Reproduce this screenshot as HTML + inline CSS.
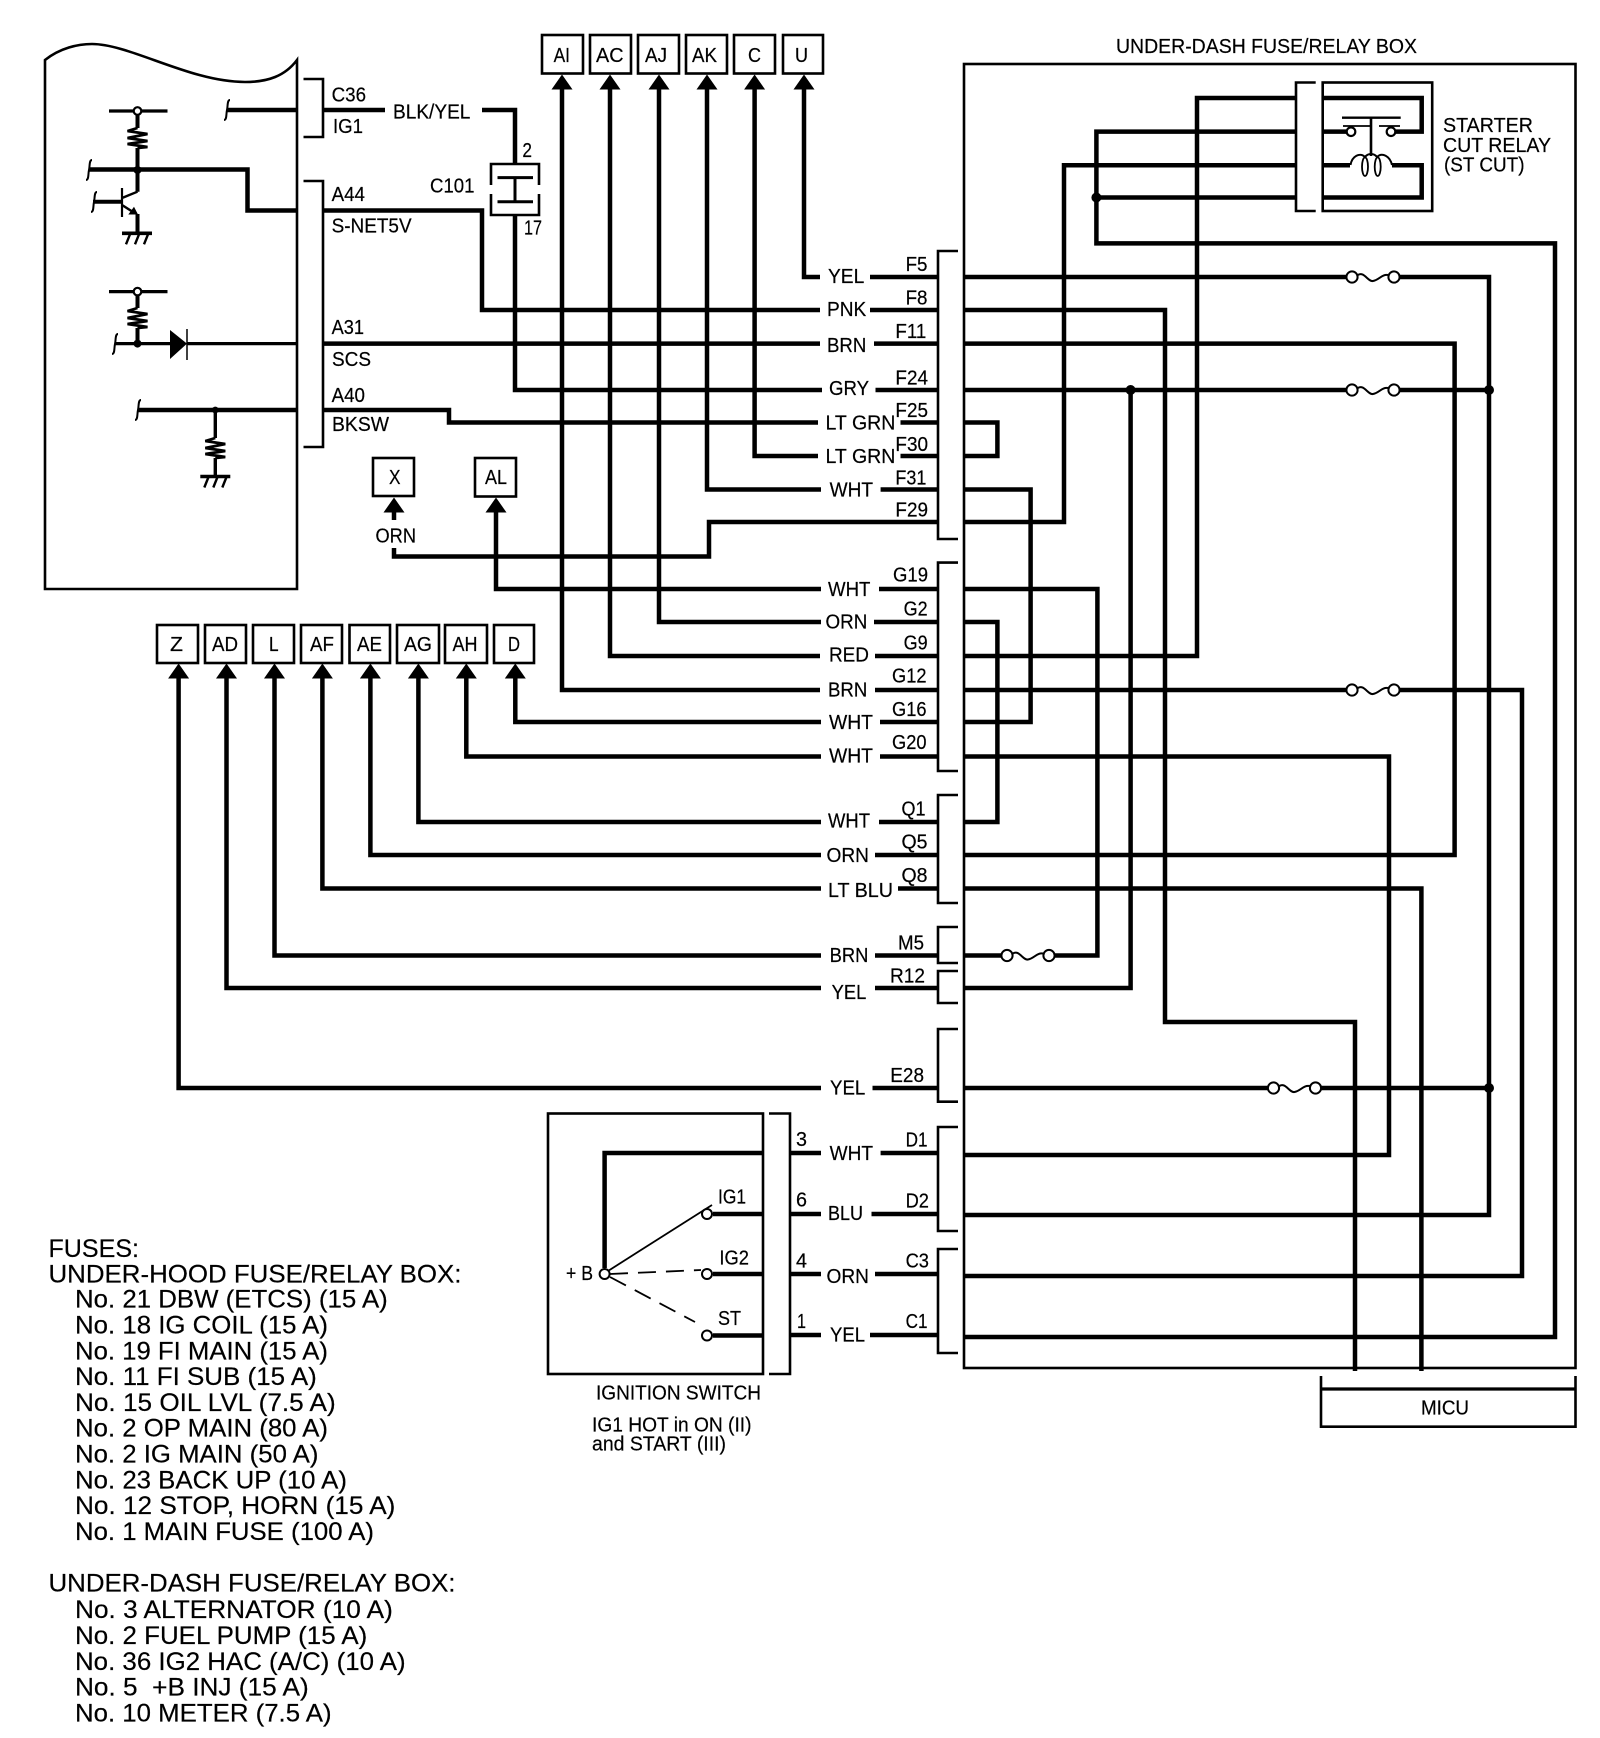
<!DOCTYPE html>
<html><head><meta charset="utf-8"><title>Diagram</title>
<style>
html,body{margin:0;padding:0;background:#fff}
svg{display:block}
text{font-family:"Liberation Sans",sans-serif;fill:#000;font-size:20.5px;stroke:#000;stroke-width:.2}
.f{font-size:25px}
.w{fill:none;stroke:#000;stroke-width:4.5}
.t{fill:none;stroke:#000;stroke-width:2.6}
.n{fill:none;stroke:#000;stroke-width:1.8}
</style></head><body>
<svg xmlns="http://www.w3.org/2000/svg" width="1600" height="1738" viewBox="0 0 1600 1738">
<defs>
<polygon id="ar" points="0,0 -10.5,15 10.5,15" fill="#000"/>
<g id="fu"><path d="M6,-2 C12,-6 16,5 21,4 C27,3 30,-3 36,-2" fill="none" stroke="#000" stroke-width="2"/><circle cx="0" cy="0" r="5.6" fill="#fff" stroke="#000" stroke-width="2"/><circle cx="42" cy="0" r="5.6" fill="#fff" stroke="#000" stroke-width="2"/></g>
<path id="rs" d="M0,0 L-10,3 L10,6 L-10,10 L10,13 L-10,16 L10,19 L0,20" fill="none" stroke="#000" stroke-width="2.700"/>
<g id="gn"><path d="M-15,0 H15" stroke="#000" stroke-width="3.600" fill="none"/><path d="M-7,1 L-11,11 M2,1 L-2,11 M11,1 L7,11" stroke="#000" stroke-width="2.400" fill="none"/></g>
<path id="sq" d="M3,-10 C0,-10 1,-4 0,0 C-1,4 0,10 -3,10" fill="none" stroke="#000" stroke-width="2"/>
</defs>
<!-- left unit -->
<path class="t" d="M45,60 C60,48 78,44 92,44 C130,44 190,82 245,82 C268,82 285,76 297,60 V589 H45 Z"/>
<path class="t" d="M303.5,79 H323 V137 H303.5 M303.5,181 H323 V447 H303.5"/>
<path class="w" d="M227,110 H297 M323,110 H385 M482,110 H515 V164"/>
<path class="w" d="M515,215 V390 H822"/>
<path class="w" d="M89,169.500 H247.500 V210.500 H297 M323,210.500 H482 V310 H820"/>
<path class="w" d="M323,343.600 H820"/>
<path class="w" d="M138,410 H297 M323,410 H449 V422.500 H818"/>
<path d="M115,343.600 H172 M187,343.600 H297" fill="none" stroke="#000" stroke-width="3.200"/>
<!-- schematic internals -->
<path d="M109,111 H167.500 M109,291.600 H167.500" stroke="#000" stroke-width="3.200" fill="none"/>
<path d="M137.500,111 V128 M137.500,148 V191.700 M137.500,214 V233 M137.500,292 V308 M137.500,328 V343" stroke="#000" stroke-width="4" fill="none"/>
<path d="M93,201.700 H122" stroke="#000" stroke-width="4"/>
<path d="M122,198 L137.500,191.700 M122,205 L133,212" stroke="#000" stroke-width="2.400" fill="none"/>
<path d="M122,188 V217" stroke="#000" stroke-width="2.200"/>
<polygon points="134,206.700 128.300,214.500 138,214.500" fill="#000"/>
<use href="#rs" x="137.500" y="128"/>
<use href="#gn" x="137" y="233.300"/>
<circle cx="137.500" cy="111" r="3.800" fill="#fff" stroke="#000" stroke-width="2.200"/>
<circle cx="137.500" cy="170" r="4" fill="#000"/>
<use href="#rs" x="137.500" y="308"/>
<circle cx="137.500" cy="291.600" r="3.800" fill="#fff" stroke="#000" stroke-width="2.200"/>
<circle cx="137.500" cy="343.600" r="4" fill="#000"/>
<polygon points="170,330 170,359 187,343.600" fill="#000"/>
<path d="M187,329 V360" stroke="#000" stroke-width="1.500"/>
<path d="M215.300,410 V438 M215.300,458 V476" stroke="#000" stroke-width="3.400" fill="none"/>
<use href="#rs" x="215.300" y="438"/>
<use href="#gn" x="215.300" y="476.500"/>
<circle cx="215.300" cy="410" r="3.400" fill="#000"/>
<use href="#sq" x="227" y="110"/><use href="#sq" x="89" y="170"/><use href="#sq" x="94" y="202"/><use href="#sq" x="115" y="344"/><use href="#sq" x="138" y="410"/>
<!-- C101 -->
<path class="t" d="M491,185 V164 H539 V185 M491,194 V215 H539 V194"/>
<path d="M497.500,177.600 H533 M497.500,201.700 H533" stroke="#000" stroke-width="3"/>
<path d="M515,177 V202" stroke="#000" stroke-width="3"/>
<!-- top connector boxes -->
<g class="t">
<rect x="542" y="35" width="41" height="38.500"/><rect x="590" y="35" width="41" height="38.500"/><rect x="638" y="35" width="41" height="38.500"/><rect x="686" y="35" width="41" height="38.500"/><rect x="734" y="35" width="41" height="38.500"/><rect x="783" y="35" width="40" height="38.500"/>
<rect x="373" y="458" width="41" height="38"/><rect x="475" y="458" width="41" height="38.500"/>
<rect x="157" y="625" width="41" height="38"/><rect x="205" y="625" width="41" height="38"/><rect x="253" y="625" width="41" height="38"/><rect x="301" y="625" width="41" height="38"/><rect x="349.500" y="625" width="40.500" height="38"/><rect x="397" y="625" width="42" height="38"/><rect x="445" y="625" width="42" height="38"/><rect x="494" y="625" width="40" height="38"/>
</g>
<!-- arrows -->
<use href="#ar" x="562" y="74.500"/><use href="#ar" x="610" y="74.500"/><use href="#ar" x="659" y="74.500"/><use href="#ar" x="707" y="74.500"/><use href="#ar" x="754.600" y="74.500"/><use href="#ar" x="804" y="74.500"/>
<use href="#ar" x="394" y="497.500"/><use href="#ar" x="496" y="497.500"/>
<use href="#ar" x="178.600" y="663.500"/><use href="#ar" x="226.500" y="663.500"/><use href="#ar" x="274.500" y="663.500"/><use href="#ar" x="322.400" y="663.500"/><use href="#ar" x="370.400" y="663.500"/><use href="#ar" x="418.400" y="663.500"/><use href="#ar" x="466.300" y="663.500"/><use href="#ar" x="515.300" y="663.500"/>
<!-- wires left of labels -->
<path class="w" d="M562,85 V690 H820"/>
<path class="w" d="M610,85 V656 H820"/>
<path class="w" d="M659,85 V622 H821"/>
<path class="w" d="M707,85 V489.500 H821"/>
<path class="w" d="M754.600,85 V456 H818"/>
<path class="w" d="M804,85 V277 H820"/>
<path class="w" d="M394,508 V520"/>
<path class="w" d="M394,548 V556.500 H709 V522 H938"/>
<path class="w" d="M496,508 V589 H821"/>
<path class="w" d="M178.600,674 V1088 H821"/>
<path class="w" d="M226.500,674 V988 H821"/>
<path class="w" d="M274.500,674 V955.500 H821"/>
<path class="w" d="M322.400,674 V888.500 H821"/>
<path class="w" d="M370.400,674 V855 H821"/>
<path class="w" d="M418.400,674 V822 H821"/>
<path class="w" d="M466.300,674 V756.500 H821"/>
<path class="w" d="M515.300,674 V722 H821"/>
<!-- stubs to connectors -->
<path class="w" d="M870,277 H938 M870,310 H938 M874,343.600 H938 M875.500,390 H938 M900.500,422.500 H938 M900.500,456 H938 M880.600,489.500 H938 M879,589 H938 M874,622 H938 M875,656 H938 M875,690 H938 M880,722 H938 M880,756.500 H938 M879,822 H938 M875,855 H938 M898,888.500 H938 M875,955.500 H938 M875,988 H938 M872.500,1088 H938 M880.600,1153 H938 M871.500,1214 H938 M875,1274 H938 M870,1335 H938"/>
<!-- connectors F G Q M R E D C -->
<path class="t" d="M958,251 H938 V539 H958 M958,562.600 H938 V771 H958 M958,795 H938 V903 H958 M958,927 H938 V963 H958 M958,971 H938 V1003 H958 M958,1029 H938 V1101.700 H958 M958,1127 H938 V1231 H958 M958,1249 H938 V1353 H958"/>
<rect class="t" x="964" y="64" width="611.500" height="1304"/>
<!-- inside box wiring -->
<path class="w" d="M964,277 H1350 M1400,277 H1489 V1215 H964"/>
<path class="w" d="M964,310 H1165 V1022 H1355 V1371"/>
<path class="w" d="M964,343.600 H1454.600 V855 H964"/>
<path class="w" d="M964,390 H1350 M1400,390 H1489"/>
<path class="w" d="M1130.600,390 V988 H964"/>
<path class="w" d="M964,422.500 H997.400 V456 H964"/>
<path class="w" d="M964,489.500 H1030.600 V722 H964"/>
<path class="w" d="M964,522 H1064 V165.300 H1296"/>
<path class="w" d="M964,589 H1097.400 V955.500 H1055"/>
<path class="w" d="M964,622 H997.400 V822 H964"/>
<path class="w" d="M964,656 H1197 V98 H1296"/>
<path class="w" d="M964,690 H1350 M1400,690 H1522 V1276 H964"/>
<path class="w" d="M964,756.500 H1389 V1155 H964"/>
<path class="w" d="M964,888.500 H1421.400 V1371"/>
<path class="w" d="M964,955.500 H1002"/>
<path class="w" d="M964,1088 H1268 M1320,1088 H1489"/>
<path class="w" d="M1296,131.600 H1096.400 V243.400 H1555 V1337 H964"/>
<path class="w" d="M1096.400,197.500 H1296"/>
<use href="#fu" x="1352" y="277"/><use href="#fu" x="1352" y="390"/><use href="#fu" x="1352" y="690"/><use href="#fu" x="1007" y="955.500"/><use href="#fu" x="1273.500" y="1088"/>
<circle cx="1096.400" cy="197.500" r="5" fill="#000"/><circle cx="1130.600" cy="390" r="5" fill="#000"/><circle cx="1489" cy="390" r="5" fill="#000"/><circle cx="1489" cy="1088" r="5" fill="#000"/>
<!-- relay -->
<path class="t" d="M1315.700,82.500 H1296 V211 H1315.700"/>
<rect class="t" x="1322.700" y="82.500" width="109.500" height="128.500"/>
<path class="w" d="M1322.700,98 H1421.700 V131.600 H1396 M1322.700,131.600 H1346 M1322.700,165.300 H1350 M1392,165.300 H1421.700 V197.500 H1322.700"/>
<path d="M1342,117.700 H1400.700" stroke="#000" stroke-width="2.400"/>
<path d="M1343,126 H1371 M1379,126 H1400" stroke="#000" stroke-width="1.800"/>
<path d="M1371,117.700 V156" stroke="#000" stroke-width="2.600"/>
<circle cx="1351" cy="131.700" r="4.300" fill="#fff" stroke="#000" stroke-width="2.200"/><circle cx="1391" cy="131.700" r="4.300" fill="#fff" stroke="#000" stroke-width="2.200"/>
<path d="M1350.500,165 C1352,156 1360,152 1365,157 C1368,153 1374,153 1377,157 C1382,152 1390,156 1392,165" fill="none" stroke="#000" stroke-width="2"/>
<ellipse cx="1365" cy="166.700" rx="3" ry="9.300" class="n"/><ellipse cx="1377.700" cy="166.700" rx="3" ry="9.300" class="n"/>
<!-- MICU -->
<path class="t" d="M1321,1376 V1426.700 H1575.500 V1376"/>
<path d="M1321,1389 H1575.500" stroke="#000" stroke-width="3.200"/>
<!-- ignition -->
<rect class="t" x="548" y="1113.500" width="215" height="260.500"/>
<path class="t" d="M769,1113.500 H790 V1374 H769"/>
<path class="w" d="M604.600,1268 V1153 H763 M790,1153 H821 M713,1214 H763 M790,1214 H821 M713,1274 H763 M790,1274 H821 M713,1335.500 H763 M790,1335 H821"/>
<path class="n" d="M608,1271 L712,1205"/>
<path class="n" stroke-dasharray="18 10" d="M610,1274 L701,1270"/>
<path class="n" stroke-dasharray="18 10" d="M610,1277 L695,1322"/>
<circle cx="604.600" cy="1274" r="5" fill="#fff" stroke="#000" stroke-width="2"/>
<circle cx="707" cy="1214" r="5" fill="#fff" stroke="#000" stroke-width="2"/>
<circle cx="707" cy="1274" r="5" fill="#fff" stroke="#000" stroke-width="2"/>
<circle cx="707" cy="1335.500" r="5" fill="#fff" stroke="#000" stroke-width="2"/>
<!-- labels left -->
<g>
<text x="331.600" y="101.400" textLength="34.400" lengthAdjust="spacingAndGlyphs">C36</text>
<text x="333" y="133" textLength="30" lengthAdjust="spacingAndGlyphs">IG1</text>
<text x="393" y="118.600" textLength="77.400" lengthAdjust="spacingAndGlyphs">BLK/YEL</text>
<text x="522.400" y="157" textLength="9.600" lengthAdjust="spacingAndGlyphs">2</text>
<text x="430" y="192.500" textLength="44.500" lengthAdjust="spacingAndGlyphs">C101</text>
<text x="524" y="234.600" textLength="18" lengthAdjust="spacingAndGlyphs">17</text>
<text x="331.600" y="201" textLength="33.400" lengthAdjust="spacingAndGlyphs">A44</text>
<text x="331.600" y="232.700" textLength="80" lengthAdjust="spacingAndGlyphs">S-NET5V</text>
<text x="331.600" y="334" textLength="32.400" lengthAdjust="spacingAndGlyphs">A31</text>
<text x="332" y="366" textLength="39" lengthAdjust="spacingAndGlyphs">SCS</text>
<text x="331.600" y="402" textLength="33.400" lengthAdjust="spacingAndGlyphs">A40</text>
<text x="332" y="431" textLength="57" lengthAdjust="spacingAndGlyphs">BKSW</text>
<text x="553.600" y="62" textLength="16.400" lengthAdjust="spacingAndGlyphs">AI</text>
<text x="596" y="62" textLength="27.500" lengthAdjust="spacingAndGlyphs">AC</text>
<text x="645" y="62" textLength="22" lengthAdjust="spacingAndGlyphs">AJ</text>
<text x="692" y="62" textLength="25" lengthAdjust="spacingAndGlyphs">AK</text>
<text x="748" y="62" textLength="13" lengthAdjust="spacingAndGlyphs">C</text>
<text x="795" y="62" textLength="13" lengthAdjust="spacingAndGlyphs">U</text>
<text x="389" y="484" textLength="11.500" lengthAdjust="spacingAndGlyphs">X</text>
<text x="485" y="484" textLength="22" lengthAdjust="spacingAndGlyphs">AL</text>
<text x="375.500" y="542.700" textLength="40.500" lengthAdjust="spacingAndGlyphs">ORN</text>
<text x="170" y="651" textLength="13" lengthAdjust="spacingAndGlyphs">Z</text>
<text x="212" y="651" textLength="26" lengthAdjust="spacingAndGlyphs">AD</text>
<text x="269" y="651" textLength="9.600" lengthAdjust="spacingAndGlyphs">L</text>
<text x="310" y="651" textLength="24" lengthAdjust="spacingAndGlyphs">AF</text>
<text x="357" y="651" textLength="25" lengthAdjust="spacingAndGlyphs">AE</text>
<text x="404" y="651" textLength="28" lengthAdjust="spacingAndGlyphs">AG</text>
<text x="452.500" y="651" textLength="25" lengthAdjust="spacingAndGlyphs">AH</text>
<text x="508" y="651" textLength="12" lengthAdjust="spacingAndGlyphs">D</text>
<!-- top right -->
<text x="1116" y="53" textLength="301" lengthAdjust="spacingAndGlyphs">UNDER-DASH FUSE/RELAY BOX</text>
<text x="1443" y="132" textLength="90" lengthAdjust="spacingAndGlyphs">STARTER</text>
<text x="1443" y="152" textLength="108" lengthAdjust="spacingAndGlyphs">CUT RELAY</text>
<text x="1444" y="171.500" textLength="80.500" lengthAdjust="spacingAndGlyphs">(ST CUT)</text>
<!-- pin labels -->
<text x="905.600" y="271" textLength="21.900" lengthAdjust="spacingAndGlyphs">F5</text>
<text x="905.600" y="304.600" textLength="21.900" lengthAdjust="spacingAndGlyphs">F8</text>
<text x="895.400" y="338" textLength="31" lengthAdjust="spacingAndGlyphs">F11</text>
<text x="895.400" y="384.600" textLength="32.600" lengthAdjust="spacingAndGlyphs">F24</text>
<text x="895.400" y="417" textLength="32.600" lengthAdjust="spacingAndGlyphs">F25</text>
<text x="895.400" y="451" textLength="32.600" lengthAdjust="spacingAndGlyphs">F30</text>
<text x="895.400" y="484.500" textLength="31" lengthAdjust="spacingAndGlyphs">F31</text>
<text x="895.400" y="516.600" textLength="32.600" lengthAdjust="spacingAndGlyphs">F29</text>
<text x="893" y="581.700" textLength="35" lengthAdjust="spacingAndGlyphs">G19</text>
<text x="903.600" y="615.600" textLength="24" lengthAdjust="spacingAndGlyphs">G2</text>
<text x="903.600" y="649.600" textLength="24" lengthAdjust="spacingAndGlyphs">G9</text>
<text x="892" y="682.600" textLength="34.500" lengthAdjust="spacingAndGlyphs">G12</text>
<text x="892" y="716" textLength="34.500" lengthAdjust="spacingAndGlyphs">G16</text>
<text x="892" y="748.800" textLength="34.500" lengthAdjust="spacingAndGlyphs">G20</text>
<text x="901.500" y="815.400" textLength="24" lengthAdjust="spacingAndGlyphs">Q1</text>
<text x="901.500" y="848.600" textLength="26" lengthAdjust="spacingAndGlyphs">Q5</text>
<text x="901.500" y="882" textLength="26" lengthAdjust="spacingAndGlyphs">Q8</text>
<text x="898" y="949.700" textLength="26" lengthAdjust="spacingAndGlyphs">M5</text>
<text x="890" y="982.600" textLength="35" lengthAdjust="spacingAndGlyphs">R12</text>
<text x="890.300" y="1082" textLength="33.700" lengthAdjust="spacingAndGlyphs">E28</text>
<text x="905.600" y="1146.700" textLength="21.900" lengthAdjust="spacingAndGlyphs">D1</text>
<text x="905.600" y="1207.300" textLength="23.400" lengthAdjust="spacingAndGlyphs">D2</text>
<text x="905.600" y="1267.700" textLength="23.400" lengthAdjust="spacingAndGlyphs">C3</text>
<text x="905.600" y="1328" textLength="21.900" lengthAdjust="spacingAndGlyphs">C1</text>
<!-- wire colours -->
<text x="828" y="283" textLength="36.300" lengthAdjust="spacingAndGlyphs">YEL</text>
<text x="827" y="316" textLength="39.300" lengthAdjust="spacingAndGlyphs">PNK</text>
<text x="827" y="352" textLength="39.300" lengthAdjust="spacingAndGlyphs">BRN</text>
<text x="829" y="395" textLength="40" lengthAdjust="spacingAndGlyphs">GRY</text>
<text x="825.500" y="429.400" textLength="69.900" lengthAdjust="spacingAndGlyphs">LT GRN</text>
<text x="825.500" y="463" textLength="69.900" lengthAdjust="spacingAndGlyphs">LT GRN</text>
<text x="829.600" y="496.700" textLength="43.400" lengthAdjust="spacingAndGlyphs">WHT</text>
<text x="828" y="596" textLength="42.400" lengthAdjust="spacingAndGlyphs">WHT</text>
<text x="825.500" y="628.600" textLength="41.800" lengthAdjust="spacingAndGlyphs">ORN</text>
<text x="829" y="661.500" textLength="40" lengthAdjust="spacingAndGlyphs">RED</text>
<text x="828" y="696.700" textLength="39.300" lengthAdjust="spacingAndGlyphs">BRN</text>
<text x="829" y="729" textLength="44" lengthAdjust="spacingAndGlyphs">WHT</text>
<text x="829" y="762.500" textLength="44" lengthAdjust="spacingAndGlyphs">WHT</text>
<text x="828" y="827.600" textLength="42" lengthAdjust="spacingAndGlyphs">WHT</text>
<text x="826.500" y="862" textLength="42.500" lengthAdjust="spacingAndGlyphs">ORN</text>
<text x="828" y="897" textLength="65" lengthAdjust="spacingAndGlyphs">LT BLU</text>
<text x="829.600" y="962" textLength="38.800" lengthAdjust="spacingAndGlyphs">BRN</text>
<text x="831.600" y="999" textLength="34.700" lengthAdjust="spacingAndGlyphs">YEL</text>
<text x="830" y="1094.700" textLength="35.300" lengthAdjust="spacingAndGlyphs">YEL</text>
<text x="829.600" y="1160" textLength="43.400" lengthAdjust="spacingAndGlyphs">WHT</text>
<text x="828" y="1220" textLength="35" lengthAdjust="spacingAndGlyphs">BLU</text>
<text x="826.500" y="1283" textLength="42.500" lengthAdjust="spacingAndGlyphs">ORN</text>
<text x="830" y="1341.700" textLength="35" lengthAdjust="spacingAndGlyphs">YEL</text>
<text x="796" y="1146" textLength="11" lengthAdjust="spacingAndGlyphs">3</text>
<text x="796" y="1206.700" textLength="11" lengthAdjust="spacingAndGlyphs">6</text>
<text x="796" y="1267.700" textLength="11" lengthAdjust="spacingAndGlyphs">4</text>
<text x="797" y="1328" textLength="9" lengthAdjust="spacingAndGlyphs">1</text>
<text x="1421" y="1414.300" textLength="48" lengthAdjust="spacingAndGlyphs">MICU</text>
<!-- ignition labels -->
<text x="718" y="1203.700" textLength="28" lengthAdjust="spacingAndGlyphs">IG1</text>
<text x="719.400" y="1264.500" textLength="29.600" lengthAdjust="spacingAndGlyphs">IG2</text>
<text x="718" y="1325" textLength="23" lengthAdjust="spacingAndGlyphs">ST</text>
<text x="566" y="1280" textLength="27" lengthAdjust="spacingAndGlyphs">+ B</text>
<text x="596" y="1399.500" textLength="165" lengthAdjust="spacingAndGlyphs">IGNITION SWITCH</text>
<text x="592" y="1431.700" textLength="159.500" lengthAdjust="spacingAndGlyphs">IG1 HOT in ON (II)</text>
<text x="592" y="1450.700" textLength="134" lengthAdjust="spacingAndGlyphs">and START (III)</text>
<!-- fuse list -->
<text class="f" x="48.500" y="1256.800" textLength="90.500" lengthAdjust="spacingAndGlyphs">FUSES:</text>
<text class="f" x="48.500" y="1282.400" textLength="413" lengthAdjust="spacingAndGlyphs">UNDER-HOOD FUSE/RELAY BOX:</text>
<text class="f" x="75" y="1307.600" textLength="312.800" lengthAdjust="spacingAndGlyphs">No. 21 DBW (ETCS) (15 A)</text>
<text class="f" x="75" y="1333.600" textLength="253" lengthAdjust="spacingAndGlyphs">No. 18 IG COIL (15 A)</text>
<text class="f" x="75" y="1359.500" textLength="253" lengthAdjust="spacingAndGlyphs">No. 19 FI MAIN (15 A)</text>
<text class="f" x="75" y="1385" textLength="241.800" lengthAdjust="spacingAndGlyphs">No. 11 FI SUB (15 A)</text>
<text class="f" x="75" y="1411" textLength="260.700" lengthAdjust="spacingAndGlyphs">No. 15 OIL LVL (7.5 A)</text>
<text class="f" x="75" y="1436.300" textLength="253" lengthAdjust="spacingAndGlyphs">No. 2 OP MAIN (80 A)</text>
<text class="f" x="75" y="1462.700" textLength="243.400" lengthAdjust="spacingAndGlyphs">No. 2 IG MAIN (50 A)</text>
<text class="f" x="75" y="1488.700" textLength="272" lengthAdjust="spacingAndGlyphs">No. 23 BACK UP (10 A)</text>
<text class="f" x="75" y="1513.900" textLength="320.400" lengthAdjust="spacingAndGlyphs">No. 12 STOP, HORN (15 A)</text>
<text class="f" x="75" y="1540" textLength="299" lengthAdjust="spacingAndGlyphs">No. 1 MAIN FUSE (100 A)</text>
<text class="f" x="48.500" y="1591.400" textLength="407" lengthAdjust="spacingAndGlyphs">UNDER-DASH FUSE/RELAY BOX:</text>
<text class="f" x="75" y="1617.800" textLength="317.900" lengthAdjust="spacingAndGlyphs">No. 3 ALTERNATOR (10 A)</text>
<text class="f" x="75" y="1643.800" textLength="292.300" lengthAdjust="spacingAndGlyphs">No. 2 FUEL PUMP (15 A)</text>
<text class="f" x="75" y="1669.800" textLength="330.600" lengthAdjust="spacingAndGlyphs">No. 36 IG2 HAC (A/C) (10 A)</text>
<text class="f" x="75" y="1695.300" textLength="233.700" lengthAdjust="spacingAndGlyphs" xml:space="preserve">No. 5  +B INJ (15 A)</text>
<text class="f" x="75" y="1721.300" textLength="256.600" lengthAdjust="spacingAndGlyphs">No. 10 METER (7.5 A)</text>
</g>
</svg>
</body></html>
